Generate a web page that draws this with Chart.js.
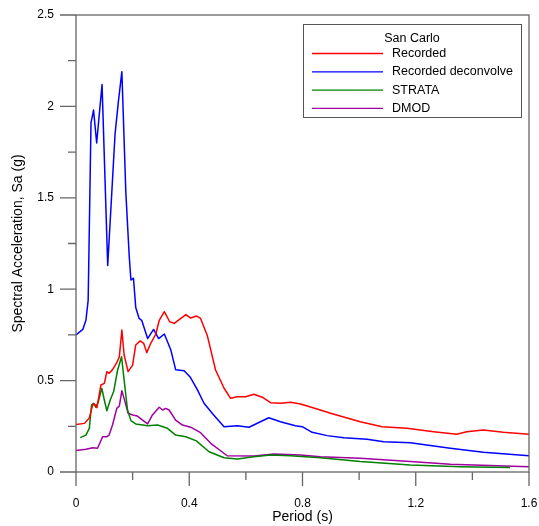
<!DOCTYPE html>
<html>
<head>
<meta charset="utf-8">
<script src="https://cdn.jsdelivr.net/npm/chart.js@4.4.1/dist/chart.umd.min.js"></script>
<style>
  body { margin: 0; background: #fff; }
</style>
</head>
<body>
<canvas id="saCanvas" width="539" height="526"></canvas>
<script>
// period (s) and spectral acceleration (g)
const recordedT = [0, 0.03, 0.047, 0.059, 0.065, 0.074, 0.088, 0.1, 0.109, 0.117, 0.129, 0.144, 0.153, 0.162, 0.17, 0.184, 0.2, 0.211, 0.227, 0.239, 0.25, 0.264, 0.282, 0.294, 0.312, 0.331, 0.347, 0.388, 0.405, 0.426, 0.44, 0.464, 0.493, 0.523, 0.546, 0.57, 0.599, 0.628, 0.658, 0.687, 0.722, 0.758, 0.793, 0.863, 0.899, 1.004, 1.081, 1.169, 1.263, 1.345, 1.38, 1.439, 1.509, 1.6];
const recordedSa = [0.26, 0.266, 0.296, 0.367, 0.372, 0.352, 0.476, 0.485, 0.549, 0.54, 0.56, 0.598, 0.63, 0.777, 0.64, 0.549, 0.585, 0.695, 0.717, 0.704, 0.653, 0.704, 0.755, 0.83, 0.877, 0.822, 0.813, 0.861, 0.842, 0.853, 0.84, 0.745, 0.558, 0.458, 0.403, 0.412, 0.412, 0.425, 0.409, 0.379, 0.376, 0.381, 0.372, 0.339, 0.321, 0.275, 0.248, 0.239, 0.22, 0.206, 0.22, 0.23, 0.217, 0.206];

const deconvT = [0, 0.024, 0.035, 0.043, 0.053, 0.062, 0.073, 0.092, 0.112, 0.138, 0.15, 0.162, 0.176, 0.188, 0.194, 0.203, 0.211, 0.223, 0.232, 0.253, 0.274, 0.292, 0.312, 0.335, 0.352, 0.382, 0.403, 0.429, 0.452, 0.487, 0.523, 0.57, 0.611, 0.681, 0.722, 0.775, 0.799, 0.834, 0.887, 0.946, 1.028, 1.087, 1.181, 1.322, 1.439, 1.6];
const deconvSa = [0.75, 0.78, 0.83, 0.94, 1.91, 1.98, 1.8, 2.12, 1.13, 1.85, 2.03, 2.19, 1.53, 1.18, 1.05, 1.06, 0.9, 0.84, 0.83, 0.73, 0.78, 0.73, 0.755, 0.667, 0.56, 0.554, 0.52, 0.449, 0.376, 0.31, 0.248, 0.253, 0.245, 0.297, 0.275, 0.253, 0.248, 0.217, 0.199, 0.188, 0.179, 0.166, 0.16, 0.13, 0.108, 0.089];

const strataT = [0.015, 0.035, 0.047, 0.055, 0.062, 0.07, 0.079, 0.091, 0.1, 0.109, 0.121, 0.133, 0.147, 0.161, 0.17, 0.182, 0.194, 0.211, 0.253, 0.288, 0.323, 0.352, 0.388, 0.425, 0.47, 0.523, 0.57, 0.628, 0.687, 0.758, 0.863, 1.004, 1.181, 1.357, 1.533];
const strataSa = [0.188, 0.202, 0.239, 0.367, 0.376, 0.354, 0.385, 0.458, 0.394, 0.335, 0.394, 0.44, 0.558, 0.63, 0.503, 0.339, 0.281, 0.263, 0.253, 0.257, 0.239, 0.202, 0.193, 0.17, 0.111, 0.078, 0.071, 0.084, 0.093, 0.089, 0.078, 0.057, 0.038, 0.029, 0.024];

const dmodT = [0, 0.035, 0.059, 0.076, 0.094, 0.109, 0.117, 0.129, 0.144, 0.153, 0.162, 0.173, 0.184, 0.2, 0.217, 0.235, 0.253, 0.27, 0.294, 0.306, 0.317, 0.329, 0.352, 0.376, 0.405, 0.44, 0.476, 0.534, 0.628, 0.699, 0.793, 0.863, 1.004, 1.181, 1.322, 1.6];
const dmodSa = [0.117, 0.124, 0.133, 0.13, 0.193, 0.193, 0.202, 0.257, 0.348, 0.361, 0.445, 0.385, 0.321, 0.312, 0.306, 0.284, 0.263, 0.312, 0.354, 0.339, 0.348, 0.339, 0.284, 0.257, 0.245, 0.215, 0.157, 0.089, 0.088, 0.098, 0.093, 0.084, 0.075, 0.057, 0.042, 0.029];

const seriesNames = ["Recorded", "Recorded deconvolve", "STRATA", "DMOD"];
const seriesColors = ["#ff0000", "#0000ff", "#008000", "#a000a0"];
const legendTitle = "San Carlo";

const FONT = '"Liberation Sans", Arial, sans-serif';
const AXIS_COLOR = "#666";

function toPoints(t, sa) {
  return t.map((v, i) => ({ x: v, y: sa[i] }));
}

// frame + outward ticks (long at labelled values, short in between)
const frameTicks = {
  id: 'frameTicks',
  afterDraw(chart) {
    const { ctx, chartArea: a } = chart;
    const xs = chart.scales.x, ys = chart.scales.y;
    ctx.save();
    ctx.strokeStyle = AXIS_COLOR;
    ctx.lineWidth = 1.3;
    ctx.strokeRect(a.left, a.top, a.right - a.left, a.bottom - a.top);
    ctx.beginPath();
    xs.ticks.forEach((t, i) => {
      const px = xs.getPixelForValue(t.value);
      const len = i % 2 === 0 ? 14 : 8;
      ctx.moveTo(px, a.bottom);
      ctx.lineTo(px, a.bottom + len);
    });
    ys.ticks.forEach((t, i) => {
      const py = ys.getPixelForValue(t.value);
      const len = i % 2 === 0 ? 16 : 8;
      ctx.moveTo(a.left, py);
      ctx.lineTo(a.left - len, py);
    });
    ctx.stroke();
    ctx.restore();
  }
};

// boxed legend with title
const boxLegend = {
  id: 'boxLegend',
  afterDraw(chart) {
    const ctx = chart.ctx;
    ctx.save();
    ctx.fillStyle = '#fff';
    ctx.fillRect(303.5, 24.5, 218, 93);
    ctx.strokeStyle = '#555';
    ctx.lineWidth = 1;
    ctx.strokeRect(303.5, 24.5, 218, 93);
    ctx.font = '12.5px ' + FONT;
    ctx.fillStyle = '#000';
    ctx.textBaseline = 'middle';
    ctx.textAlign = 'center';
    ctx.fillText(legendTitle, 412, 39);
    ctx.textAlign = 'left';
    chart.data.datasets.forEach((ds, i) => {
      const y = 53.5 + i * 18.3;
      ctx.strokeStyle = ds.borderColor;
      ctx.lineWidth = 1.3;
      ctx.beginPath();
      ctx.moveTo(312, y);
      ctx.lineTo(383, y);
      ctx.stroke();
      ctx.fillStyle = '#000';
      ctx.fillText(ds.label, 392, y);
    });
    ctx.restore();
  }
};

const saCanvas = document.getElementById("saCanvas");

const saChart = new Chart(saCanvas, {
  type: "line",
  data: {
    datasets: [
      { label: seriesNames[0], data: toPoints(recordedT, recordedSa), borderColor: seriesColors[0] },
      { label: seriesNames[1], data: toPoints(deconvT, deconvSa), borderColor: seriesColors[1] },
      { label: seriesNames[2], data: toPoints(strataT, strataSa), borderColor: seriesColors[2] },
      { label: seriesNames[3], data: toPoints(dmodT, dmodSa), borderColor: seriesColors[3] }
    ]
  },
  options: {
    responsive: false,
    animation: false,
    datasets: {
      line: {
        borderWidth: 1.5,
        pointRadius: 0,
        fill: false,
        tension: 0,
        borderJoinStyle: 'round'
      }
    },
    layout: { padding: { top: 15, right: 10, left: 0, bottom: 0 } },
    plugins: {
      legend: { display: false },
      tooltip: { enabled: false }
    },
    scales: {
      x: {
        type: 'linear',
        min: 0,
        max: 1.6,
        grid: { display: false, drawTicks: false },
        border: { display: false },
        ticks: {
          stepSize: 0.2,
          padding: 24,
          maxRotation: 0,
          autoSkip: false,
          color: '#000',
          font: { family: FONT, size: 12 },
          callback: (v, i) => i % 2 === 0 ? String(+v.toFixed(1)) : ''
        },
        title: {
          display: true,
          text: 'Period (s)',
          color: '#000',
          font: { family: FONT, size: 14 },
          padding: { top: 0, bottom: 0 }
        },
        afterFit: (s) => { s.height = 54; s.paddingLeft = 0; s.paddingRight = 0; }
      },
      y: {
        min: 0,
        max: 2.5,
        grid: { display: false, drawTicks: false },
        border: { display: false },
        ticks: {
          stepSize: 0.25,
          padding: 22,
          autoSkip: false,
          color: '#000',
          font: { family: FONT, size: 12 },
          callback: (v, i) => i % 2 === 0 ? String(+v.toFixed(2)) : ''
        },
        title: {
          display: true,
          text: 'Spectral Acceleration, Sa (g)',
          color: '#000',
          font: { family: FONT, size: 14 },
          padding: { top: 10, bottom: 0 }
        },
        afterFit: (s) => { s.width = 76; s.paddingTop = 0; s.paddingBottom = 0; }
      }
    }
  },
  plugins: [frameTicks, boxLegend]
});
</script>
</body>
</html>
